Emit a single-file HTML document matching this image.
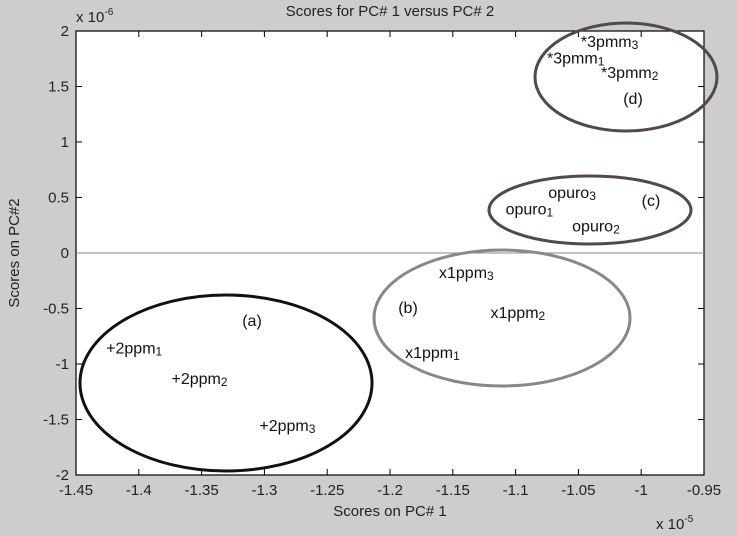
<!DOCTYPE html>
<html><head><meta charset="utf-8">
<style>
body{margin:0;background:#cdcdcd;}
svg{display:block;font-family:"Liberation Sans",Arial,sans-serif;}
</style></head>
<body>
<svg id="chart" width="737" height="536" viewBox="0 0 737 536">
<rect x="0" y="0" width="737" height="536" fill="#cdcdcd"/>
<rect x="76" y="31" width="628" height="444" fill="#fff" stroke="#000" stroke-width="1.2"/>
<text x="390" y="16" text-anchor="middle" font-size="15" fill="#222">Scores for PC# 1 versus PC# 2</text>
<text x="390" y="516" text-anchor="middle" font-size="15" fill="#222">Scores on PC# 1</text>
<text transform="translate(19,253) rotate(-90)" text-anchor="middle" font-size="15" fill="#222">Scores on PC#2</text>
<text x="76" y="22" font-size="15" fill="#222">x 10<tspan dy="-7" font-size="10">-6</tspan></text>
<text x="656" y="529" font-size="15" fill="#222">x 10<tspan dy="-7" font-size="10">-5</tspan></text>
<g id="axes"></g>
<g id="ellipses"></g>
<g id="points"></g>
</svg>
<script>
const xTicks=[-1.45,-1.4,-1.35,-1.3,-1.25,-1.2,-1.15,-1.1,-1.05,-1,-0.95];
const xTickLabels=["-1.45","-1.4","-1.35","-1.3","-1.25","-1.2","-1.15","-1.1","-1.05","-1","-0.95"];
const yTicks=[2,1.5,1,0.5,0,-0.5,-1,-1.5,-2];
const yTickLabels=["2","1.5","1","0.5","0","-0.5","-1","-1.5","-2"];
const pointMarks=["+","+","+","x","x","x","o","o","o","*","*","*"];
const pointNames=["2ppm","2ppm","2ppm","1ppm","1ppm","1ppm","puro","puro","puro","3pmm","3pmm","3pmm"];
const pointSubs=["1","2","3","3","2","1","1","3","2","3","1","2"];
const pc1=[-1.422,-1.370,-1.300,-1.157,-1.116,-1.184,-1.104,-1.070,-1.051,-1.044,-1.071,-1.028];
const pc2=[-0.85,-1.125,-1.55,-0.17,-0.53,-0.89,0.40,0.55,0.25,1.91,1.76,1.63];

const NS="http://www.w3.org/2000/svg";
const X0=76,X1=704,Y0=31,Y1=475;
function sx(v){return X0+(v-(-1.45))/(0.5)*(X1-X0);}
function sy(v){return Y0+(2-v)/4*(Y1-Y0);}
function mk(tag,attrs,parent){const e=document.createElementNS(NS,tag);for(const k in attrs)e.setAttribute(k,attrs[k]);parent.appendChild(e);return e;}
const axes=document.getElementById('axes');
xTicks.forEach((v,i)=>{
  const x=sx(v);
  const t1=mk('line',{x1:x,x2:x,y1:Y1,y2:Y1-6,stroke:'#000'},axes);
  
  
  const t2=mk('line',{x1:x,x2:x,y1:Y0,y2:Y0+6,stroke:'#000'},axes);
  
  
  const tx=mk('text',{x:x,y:Y1+20,'text-anchor':'middle','font-size':15,fill:'#222'},axes);
  tx.textContent=xTickLabels[i];
  
  
});
yTicks.forEach((v,i)=>{
  const y=sy(v);
  const t1=mk('line',{x1:X0,x2:X0+6,y1:y,y2:y,stroke:'#000'},axes);
  
  
  const t2=mk('line',{x1:X1,x2:X1-6,y1:y,y2:y,stroke:'#000'},axes);
  
  
  const tx=mk('text',{x:X0-7,y:y+5,'text-anchor':'end','font-size':15,fill:'#222'},axes);
  tx.textContent=yTickLabels[i];
  
  
});
const zl=mk('line',{x1:X0,x2:X1,y1:sy(0),y2:sy(0),stroke:'#888','stroke-width':1},axes);



const el=document.getElementById('ellipses');
const ellipses=[
 {cx:226,cy:383,rx:146,ry:88,c:'#111',lab:'(a)',lx:252,ly:326,n:'cluster-a'},
 {cx:502,cy:318,rx:128,ry:68,c:'#888',lab:'(b)',lx:408,ly:313,n:'cluster-b'},
 {cx:590,cy:210,rx:101,ry:34,c:'#554848',lab:'(c)',lx:651,ly:206,n:'cluster-c'},
 {cx:626,cy:77,rx:91,ry:54,c:'#554848',lab:'(d)',lx:633,ly:104,n:'cluster-d'}
];
ellipses.forEach(e=>{
  const g=mk('g',{},el);
  
  
  const ee=mk('ellipse',{cx:e.cx,cy:e.cy,rx:e.rx,ry:e.ry,fill:'none',stroke:e.c,'stroke-width':3},g);
  
  
  const t=mk('text',{x:e.lx,y:e.ly,'text-anchor':'middle','font-size':16,fill:'#111'},g);
  t.textContent=e.lab;
  
  
});

const pts=document.getElementById('points');
pc1.forEach((v,i)=>{
  const x=sx(v),y=sy(pc2[i]);
  const t=mk('text',{x:x-5,y:y+6,'font-size':16,fill:'#111'},pts);
  const m=mk('tspan',{},t);
  m.textContent=pointMarks[i];
  const nm=mk('tspan',{},t);
  nm.textContent=pointNames[i];
  const s=mk('tspan',{'font-size':12,dy:2},t);
  s.textContent=pointSubs[i];
  
  
});
</script>
</body></html>
